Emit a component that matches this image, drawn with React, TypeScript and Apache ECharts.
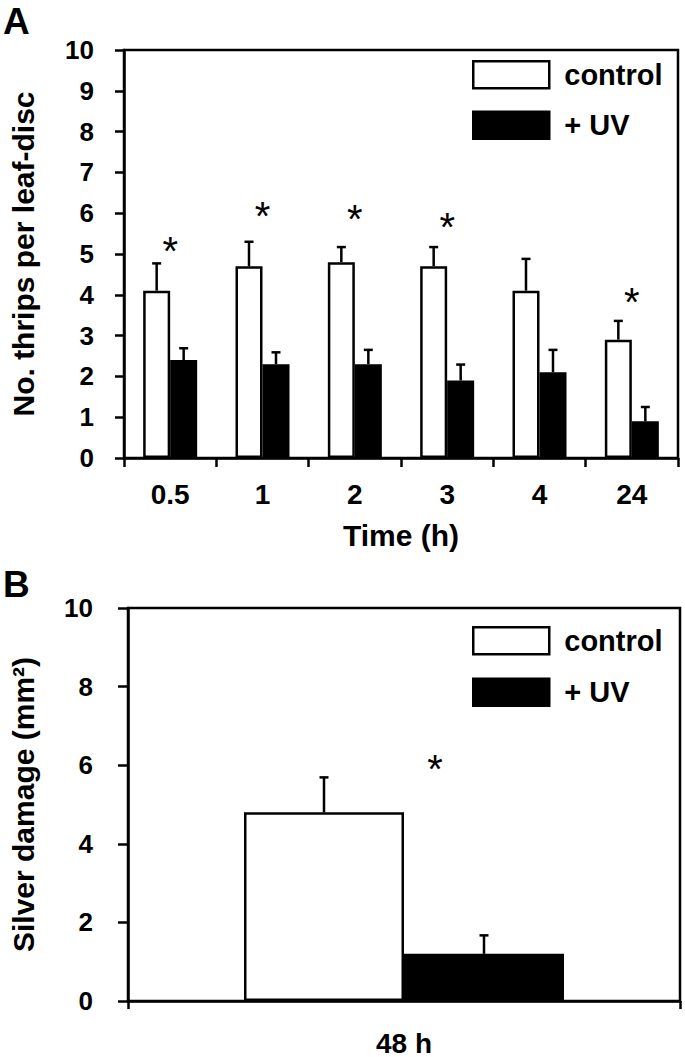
import React, { useEffect, useRef } from "react";
import * as echarts from "echarts";

// Panel A data
const timeCategories = ["0.5", "1", "2", "3", "4", "24"];
const controlA = [4.1, 4.7, 4.8, 4.7, 4.1, 2.9];
const controlErrA = [0.67, 0.6, 0.37, 0.47, 0.78, 0.46];
const uvA = [2.4, 2.3, 2.3, 1.9, 2.1, 0.9];
const uvErrA = [0.29, 0.29, 0.35, 0.39, 0.55, 0.35];
const starsA: (number | null)[] = [5.3, 6.15, 6.08, 5.88, null, 4.04];

// Panel B data
const damageCategories = ["48 h"];
const controlB = [4.8];
const controlErrB = [0.89];
const uvB = [1.2];
const uvErrB = [0.47];
const starsB: (number | null)[] = [6.14];

const yTicksA = { min: 0, max: 10, interval: 1 };
const yTicksB = { min: 0, max: 10, interval: 2 };

const FONT = '"Liberation Sans", Arial, sans-serif';
const LW = 2.5;
const BAR_A = 27;
const BAR_B = 160;

function errRender(offset: number) {
  return (params: any, api: any) => {
    const i = api.value(0);
    const base = api.coord([i, api.value(1)]);
    const top = api.coord([i, api.value(2)]);
    const x = base[0] + offset;
    return {
      type: "group",
      children: [
        { type: "line", shape: { x1: x, y1: base[1], x2: x, y2: top[1] }, style: { stroke: "#000", lineWidth: LW } },
        { type: "line", shape: { x1: x - 4.5, y1: top[1], x2: x + 4.5, y2: top[1] }, style: { stroke: "#000", lineWidth: LW } },
      ],
    };
  };
}

function starRender(dx: number) {
  return (params: any, api: any) => {
    const p = api.coord([api.value(0), api.value(1)]);
    return {
      type: "text",
      x: p[0] + dx,
      y: p[1] + 9,
      style: { text: "*", fontSize: 40, fontFamily: FONT, fill: "#000", align: "center", verticalAlign: "middle" },
    };
  };
}

function errData(vals: number[], errs: number[]) {
  return vals.map((v, i) => [i, v, v + errs[i]]);
}
function starData(vals: (number | null)[]) {
  return vals.map((v, i) => (v == null ? null : [i, v])).filter((d) => d != null);
}

export default function App() {
  const ref = useRef<HTMLDivElement>(null);
  useEffect(() => {
    if (!ref.current) return;
    const chart = echarts.init(ref.current, null, { renderer: "svg" });
    const axisLabelY = { fontFamily: FONT, fontWeight: "bold", fontSize: 26, color: "#000" };
    const axisLabelX = { fontFamily: FONT, fontWeight: "bold", fontSize: 28, color: "#000" };
    const nameStyle = { fontFamily: FONT, fontWeight: "bold", fontSize: 30, color: "#000" };
    const line = { lineStyle: { color: "#000", width: LW } };
    const legendText = { fontFamily: FONT, fontWeight: "bold", fontSize: 29, color: "#000", lineHeight: 27, padding: [0, 0, 0, 10] };
    const legendData = [
      { name: "control", itemStyle: { color: "#fff", borderColor: "#000", borderWidth: LW } },
      { name: "+ UV", itemStyle: { color: "#000", borderColor: "#000", borderWidth: LW } },
    ];
    chart.setOption({
      animation: false,
      backgroundColor: "#fff",
      grid: [
        { left: 119, top: 50, width: 559, height: 408, show: true, borderColor: "#000", borderWidth: LW, backgroundColor: "transparent" },
        { left: 123, top: 608, width: 557, height: 394, show: true, borderColor: "#000", borderWidth: LW, backgroundColor: "transparent" },
      ],
      legend: [
        {
          left: 472, top: 60, orient: "vertical", itemWidth: 76, itemHeight: 27, itemGap: 21, padding: 0,
          selectedMode: false, icon: "rect", data: legendData, textStyle: legendText,
        },
        {
          left: 472, top: 626, orient: "vertical", itemWidth: 76, itemHeight: 27, itemGap: 22, padding: 0,
          selectedMode: false, icon: "rect", data: legendData, textStyle: legendText,
        },
      ],
      xAxis: [
        {
          type: "category", gridIndex: 0, data: timeCategories, boundaryGap: true,
          axisLine: line, axisTick: { show: true, length: 9, lineStyle: { color: "#000", width: LW } },
          axisLabel: { ...axisLabelX, margin: 22 },
          name: "Time (h)", nameLocation: "middle", nameGap: 62, nameTextStyle: nameStyle,
        },
        {
          type: "category", gridIndex: 1, data: damageCategories, boundaryGap: true,
          axisLine: line, axisTick: { show: true, length: 8, lineStyle: { color: "#000", width: LW } },
          axisLabel: { ...axisLabelX, margin: 28 },
        },
      ],
      yAxis: [
        {
          type: "value", gridIndex: 0, ...yTicksA, splitLine: { show: false },
          axisLine: { show: true, ...line }, axisTick: { show: true, length: 9, lineStyle: { color: "#000", width: LW } },
          axisLabel: { ...axisLabelY, margin: 30 },
          name: "No. thrips per leaf-disc", nameLocation: "middle", nameGap: 86, nameTextStyle: nameStyle,
        },
        {
          type: "value", gridIndex: 1, ...yTicksB, splitLine: { show: false },
          axisLine: { show: true, ...line }, axisTick: { show: true, length: 10, lineStyle: { color: "#000", width: LW } },
          axisLabel: { ...axisLabelY, margin: 35 },
          name: "Silver damage (mm²)", nameLocation: "middle", nameGap: 90, nameTextStyle: nameStyle,
        },
      ],
      series: [
        {
          name: "control", type: "bar", xAxisIndex: 0, yAxisIndex: 0, data: controlA, barWidth: BAR_A, barGap: "0%",
          itemStyle: { color: "#fff", borderColor: "#000", borderWidth: LW },
        },
        {
          name: "+ UV", type: "bar", xAxisIndex: 0, yAxisIndex: 0, data: uvA, barWidth: BAR_A, barGap: "0%",
          itemStyle: { color: "#000", borderColor: "#000", borderWidth: LW },
        },
        {
          name: "control err", type: "custom", xAxisIndex: 0, yAxisIndex: 0, data: errData(controlA, controlErrA),
          encode: { x: 0, y: [1, 2] }, renderItem: errRender(-BAR_A / 2), z: 3,
        },
        {
          name: "uv err", type: "custom", xAxisIndex: 0, yAxisIndex: 0, data: errData(uvA, uvErrA),
          encode: { x: 0, y: [1, 2] }, renderItem: errRender(BAR_A / 2), z: 3,
        },
        {
          name: "stars", type: "custom", xAxisIndex: 0, yAxisIndex: 0, data: starData(starsA),
          encode: { x: 0, y: 1 }, renderItem: starRender(0), z: 3,
        },
        {
          name: "control", type: "bar", xAxisIndex: 1, yAxisIndex: 1, data: controlB, barWidth: BAR_B, barGap: "0%",
          itemStyle: { color: "#fff", borderColor: "#000", borderWidth: LW },
        },
        {
          name: "+ UV", type: "bar", xAxisIndex: 1, yAxisIndex: 1, data: uvB, barWidth: BAR_B, barGap: "0%",
          itemStyle: { color: "#000", borderColor: "#000", borderWidth: LW },
        },
        {
          name: "control err B", type: "custom", xAxisIndex: 1, yAxisIndex: 1, data: errData(controlB, controlErrB),
          encode: { x: 0, y: [1, 2] }, renderItem: errRender(-BAR_B / 2), z: 3,
        },
        {
          name: "uv err B", type: "custom", xAxisIndex: 1, yAxisIndex: 1, data: errData(uvB, uvErrB),
          encode: { x: 0, y: [1, 2] }, renderItem: errRender(BAR_B / 2), z: 3,
        },
        {
          name: "stars B", type: "custom", xAxisIndex: 1, yAxisIndex: 1, data: starData(starsB),
          encode: { x: 0, y: 1 }, renderItem: starRender(31), z: 3,
        },
      ],
      graphic: [
        { type: "text", left: 3, top: 3, style: { text: "A", fontFamily: FONT, fontWeight: "bold", fontSize: 37, fill: "#000" } },
        { type: "text", left: 3, top: 566, style: { text: "B", fontFamily: FONT, fontWeight: "bold", fontSize: 37, fill: "#000" } },
      ],
    });
    return () => chart.dispose();
  }, []);
  return <div ref={ref} style={{ position: "absolute", left: 0, top: 0, width: 685, height: 1057 }} />;
}
